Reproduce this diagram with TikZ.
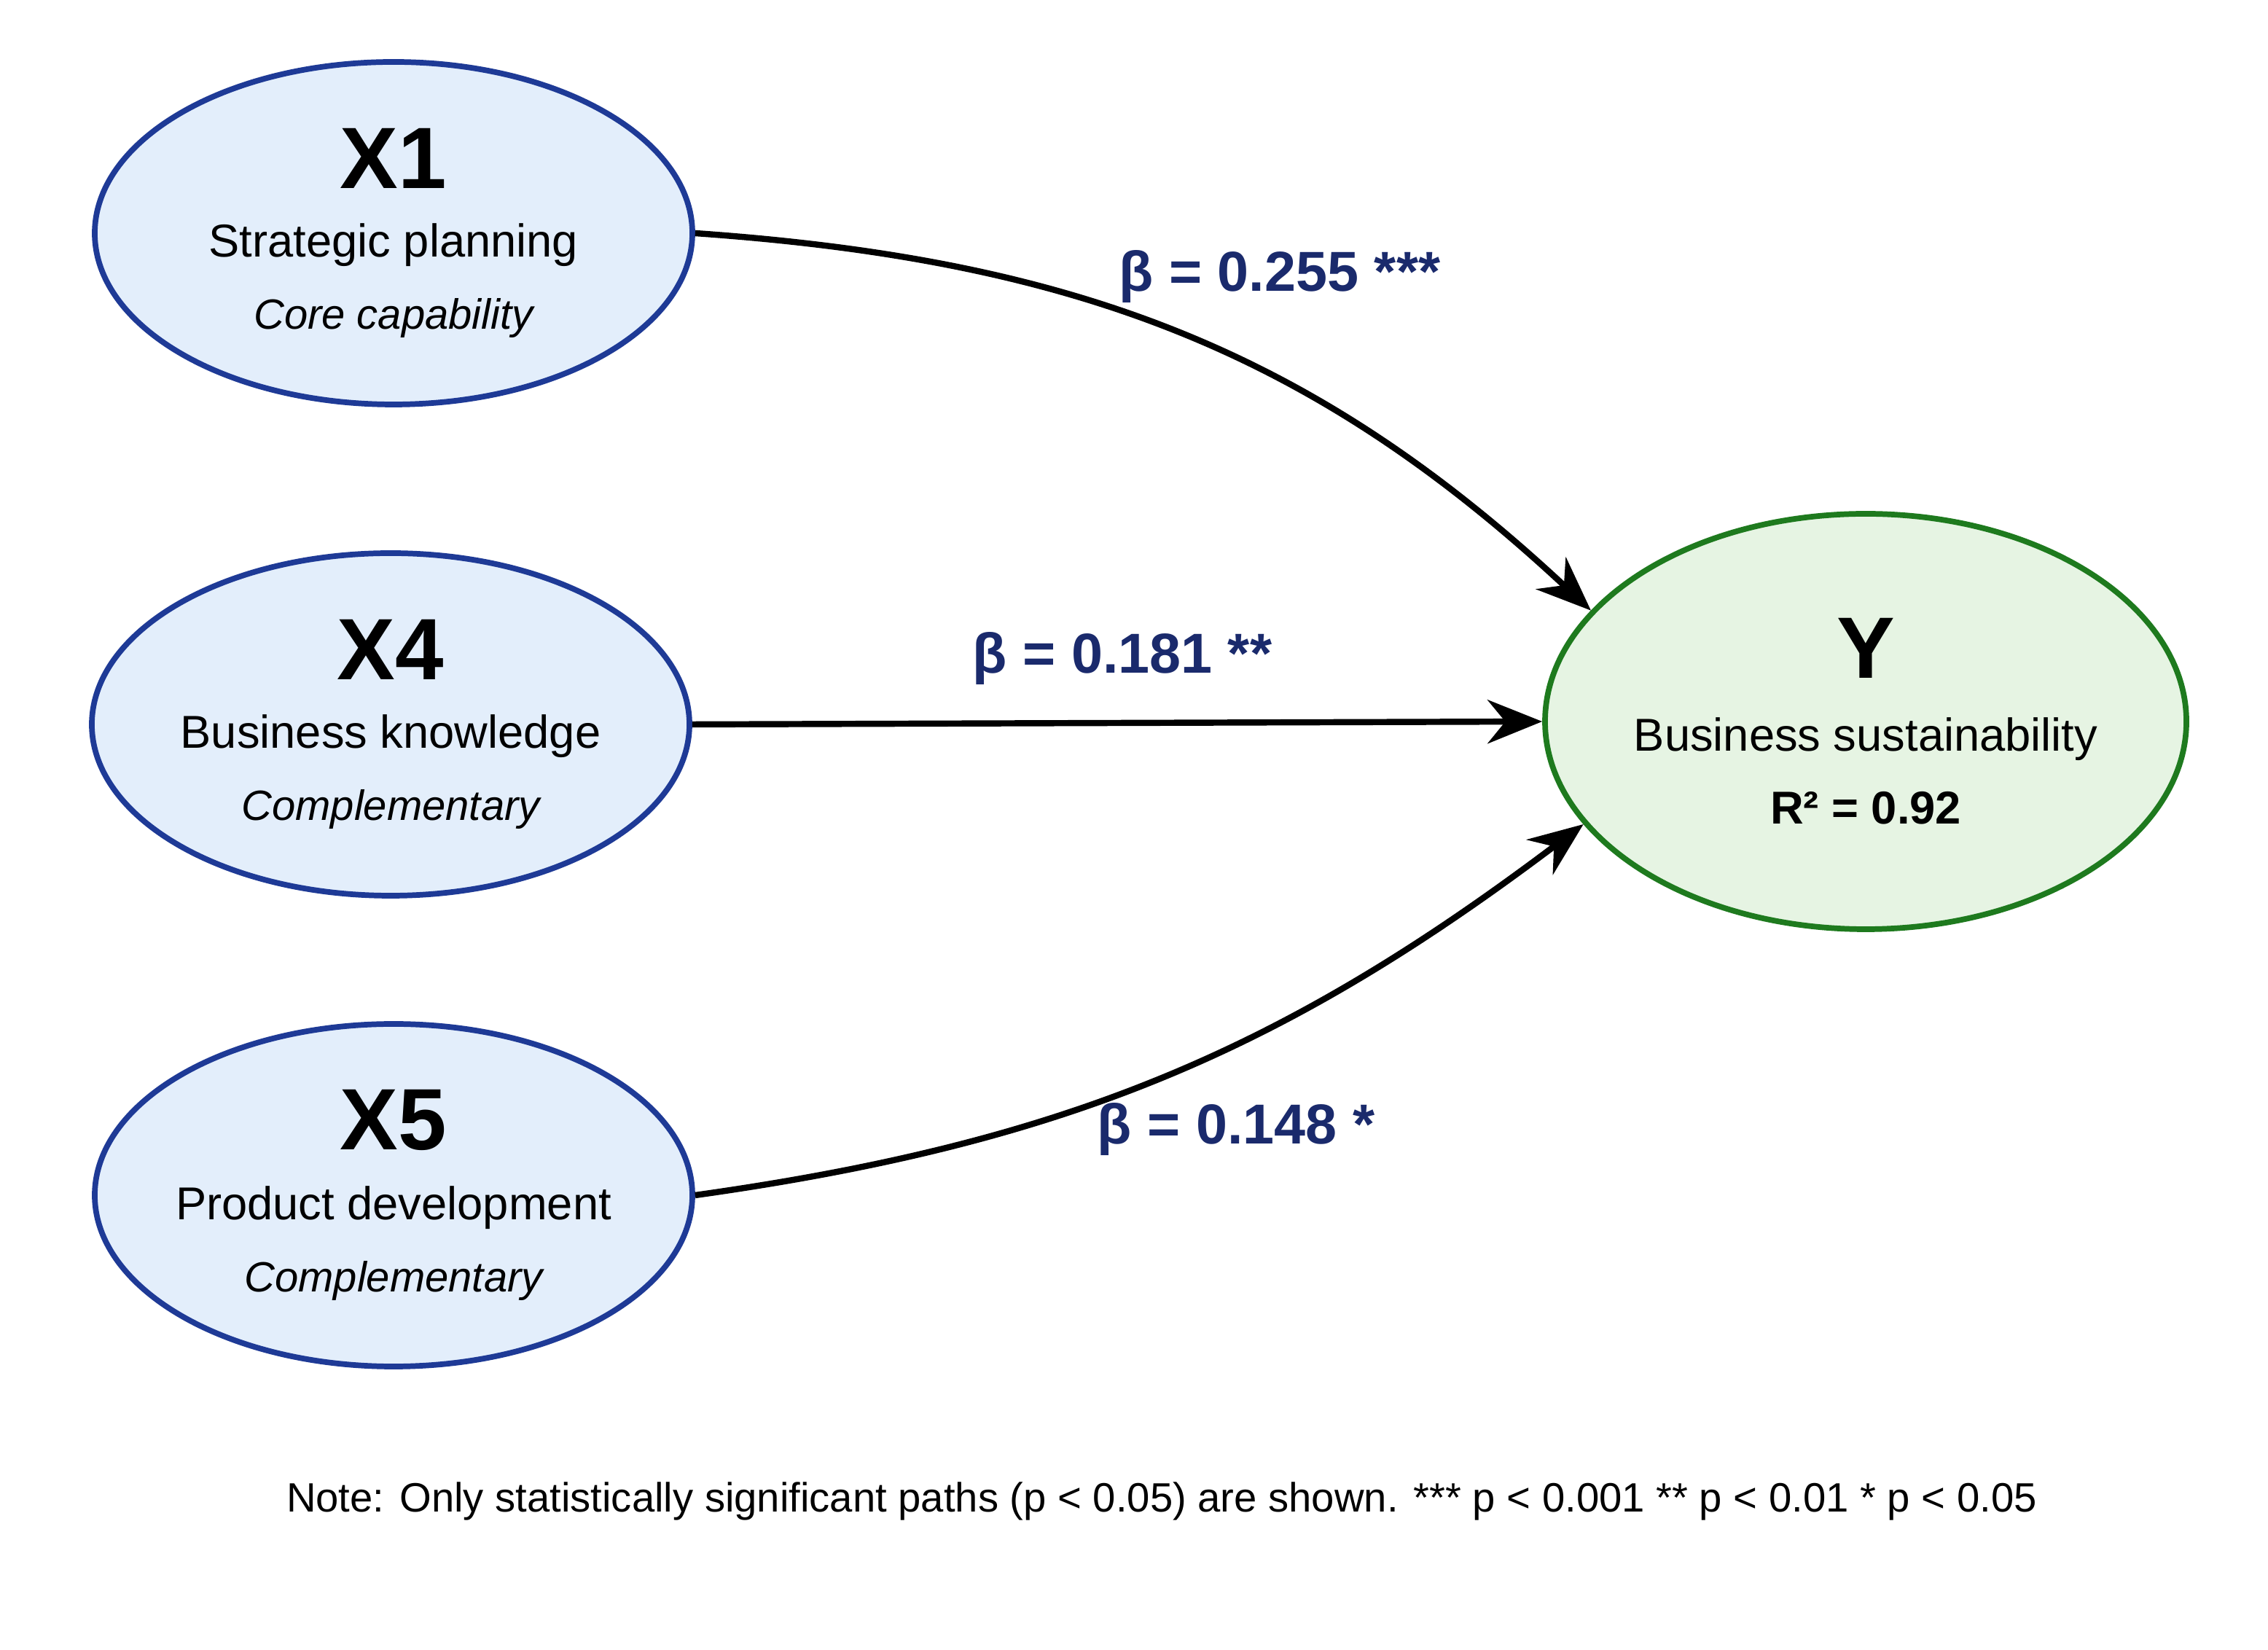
\documentclass[tikz,border=0pt]{standalone}
\usepackage{fontspec}
\setmainfont{Liberation Sans}
\usetikzlibrary{shapes,shapes.geometric,arrows.meta,calc}
\definecolor{predfill}{HTML}{E3EEFB}
\definecolor{preddraw}{HTML}{1E3A96}
\definecolor{outfill}{HTML}{E6F4E3}
\definecolor{outdraw}{HTML}{1E7A1E}
\definecolor{betacol}{HTML}{1A2A6C}
\tikzset{
  varnode/.style = {ellipse, align=center, inner sep=-1.6cm, line width=2.2pt},
  pred_n/.style = {varnode, fill=predfill, draw=preddraw, minimum width=8.2cm, minimum height=4.7cm},
  out_n/.style = {varnode, fill=outfill, draw=outdraw, minimum width=8.8cm, minimum height=5.7cm},
  path_a/.style = {line width=2.4pt, -{Stealth[length=0.75cm,width=0.6cm]}},
  beta_l/.style = {font=\fontsize{22}{26}\selectfont\bfseries, text=betacol}
}
\newcommand{\vartext}[3]{{\fontsize{34}{40}\selectfont\bfseries #1}\\[0.45cm]
  {\fontsize{18}{24}\selectfont #2}\\[0.4cm]{\fontsize{16.5}{22}\selectfont\itshape #3}}
\begin{document}
\begin{tikzpicture}
	\useasboundingbox[fill=white] (0,0) rectangle (31.12,22.63);
	\node [pred_n] (x1) at (5.4,19.43) {\vartext{X1}{Strategic planning}{Core capability}};
	\node [pred_n] (x4) at (5.36,12.69) {\vartext{X4}{Business knowledge}{Complementary}};
	\node [pred_n] (x5) at (5.4,6.23) {\vartext{X5}{Product development}{Complementary}};
	\node [out_n] (y) at (25.6,12.73) {{\fontsize{34}{40}\selectfont\bfseries Y}\\[0.5cm]
		{\fontsize{18}{24}\selectfont Business sustainability}\\[0.4cm]
		{\fontsize{18}{24}\selectfont\bfseries R² = 0.92}};
	% regression paths
	\draw [path_a] (x1.east) to[out=-4,in=137] (y.158);
	\draw [path_a] (x4.east) -- (y.west);
	\draw [path_a] (x5.east) to[out=8,in=-143] (y.200);
	\node [beta_l] (b1) at (17.56,18.83) {β = 0.255 ***};
	\node [beta_l] (b4) at (15.4,13.59) {β = 0.181 **};
	\node [beta_l] (b5) at (16.96,7.13) {β = 0.148 *};
	\node [font=\fontsize{16}{19}\selectfont] (note) at (15.94,2.03)
		{Note: Only statistically significant paths (p < 0.05) are shown. *** p < 0.001 ** p < 0.01 * p < 0.05};
\end{tikzpicture}
\end{document}
